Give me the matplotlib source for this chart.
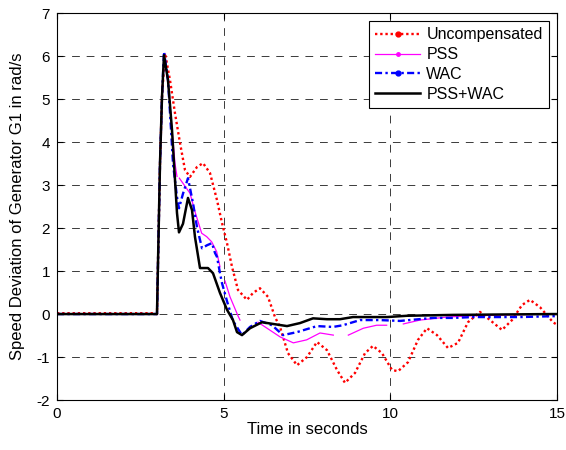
"""Speed deviation of generator G1 under the four control schemes."""
import numpy as np
import matplotlib.pyplot as plt
from matplotlib.lines import Line2D

# Uncompensated (red dotted)
t_unc = [0, 2.94, 3.0, 3.03, 3.09, 3.15, 3.24, 3.39, 3.54, 3.69, 3.84, 3.99, 4.2, 4.38,
         4.59, 4.8, 4.95, 5.1, 5.25, 5.43, 5.7, 5.88, 6.09, 6.33, 6.54, 6.69, 6.93, 7.2,
         7.5, 7.8, 8.1, 8.4, 8.64, 8.94, 9.24, 9.48, 9.75, 10.05, 10.23, 10.53, 10.83,
         11.1, 11.4, 11.73, 12.03, 12.33, 12.69, 12.99, 13.35, 13.65, 13.95, 14.19, 14.49,
         14.88, 15.0]
y_unc = [0.02, 0.02, 0, 1.2, 3.5, 5.05, 6.07, 5.44, 4.67, 3.98, 3.35, 3.19, 3.42, 3.51,
         3.28, 2.65, 2.12, 1.65, 1.1, 0.56, 0.33, 0.49, 0.6, 0.4, -0.07, -0.3, -0.91, -1.19,
         -1.0, -0.65, -0.84, -1.3, -1.6, -1.37, -0.91, -0.74, -0.91, -1.3, -1.33, -1.12, -0.6,
         -0.33, -0.49, -0.79, -0.67, -0.19, 0.05, -0.14, -0.37, -0.14, 0.21, 0.33, 0.16,
         -0.19, -0.25]

# PSS (magenta, drawn with gaps as in the original)
t_pss = [0, 2.94, 3.0, 3.03, 3.09, 3.15, 3.21, 3.33, 3.45, 3.54, 3.6, 3.63,
         3.67, 3.99, 4.14, 4.34, 4.49, 4.64, 4.79, 4.89, 4.96,
         5.04, 5.19, 5.44, 5.49, 5.75,
         6.03, 6.69, 7.09, 7.49, 7.89, 8.29, 8.5,
         8.74, 9.19, 9.59, 9.89, 10.1,
         10.39, 10.89, 11.69, 12.5, 13.5, 14.88, 15.0]
y_pss = [0, 0, 0, 1.19, 3.5, 5.05, 6.05, 5.4, 4.3, 3.5, 3.2, np.nan,
         3.16, 2.81, 2.38, 1.88, 1.8, 1.68, 1.45, 1.1, np.nan,
         0.77, 0.4, -0.06, -0.14, np.nan,
         -0.19, -0.53, -0.67, -0.6, -0.44, -0.49, np.nan,
         -0.49, -0.33, -0.26, -0.26, np.nan,
         -0.23, -0.14, -0.07, -0.04, -0.02, 0, 0]

# WAC (blue dash-dot)
t_wac = [0, 2.94, 3.0, 3.03, 3.09, 3.15, 3.21, 3.33, 3.42, 3.48, 3.6, 3.66, 3.78, 3.93,
         4.08, 4.2, 4.35, 4.5, 4.65, 4.74, 4.8, 4.89, 4.95, 5.1, 5.28, 5.55, 5.79, 6.09,
         6.45, 6.78, 7.2, 7.8, 8.28, 8.58, 9.09, 9.69, 10.29, 11.28, 11.88, 12.48, 13.89,
         14.88, 15.0]
y_wac = [0, 0, 0, 1.19, 3.5, 5.05, 6.1, 5.44, 4.3, 3.5, 2.72, 2.46, 2.8, 3.16,
         2.58, 2.02, 1.53, 1.6, 1.65, 1.42, 1.33, 0.95, 0.72, 0.3, -0.16, -0.49, -0.3, -0.16,
         -0.26, -0.49, -0.42, -0.28, -0.3, -0.26, -0.14, -0.14, -0.16, -0.09, -0.09, -0.07,
         -0.07, -0.05, -0.05]

# PSS+WAC (black solid)
t_both = [0, 2.94, 3.0, 3.03, 3.09, 3.15, 3.21, 3.33, 3.45, 3.54, 3.6, 3.66, 3.78, 3.93,
          4.05, 4.14, 4.29, 4.53, 4.68, 4.89, 5.1, 5.28, 5.4, 5.55, 5.79, 6.15, 6.48, 6.9,
          7.29, 7.68, 8.1, 8.49, 8.88, 9.9, 10.5, 11.88, 14.88, 15.0]
y_both = [0, 0, 0, 1.19, 3.5, 5.05, 6.02, 5.44, 4.28, 3.12, 2.35, 1.9, 2.1, 2.7,
          2.42, 1.79, 1.07, 1.07, 0.95, 0.49, 0.1, -0.14, -0.42, -0.49, -0.33, -0.19, -0.23,
          -0.28, -0.21, -0.1, -0.12, -0.12, -0.07, -0.07, -0.04, -0.02, 0, 0]

plt.rcParams["font.family"] = ["Liberation Sans", "DejaVu Sans"]
plt.rcParams["axes.unicode_minus"] = False

red_ls = (0, (1, 1.2))
blue_ls = (0, (3, 1.4, 1, 1.4))

fig = plt.figure(figsize=(5.66, 4.5), dpi=100)
ax = fig.add_axes([0.1007, 0.111, 0.8834, 0.86])

ax.plot(t_unc, y_unc, color="red", linestyle=red_ls, linewidth=1.7)
ax.plot(t_pss, y_pss, color="magenta", linestyle="-", linewidth=0.9)
ax.plot(t_wac, y_wac, color="blue", linestyle=blue_ls, linewidth=1.7)
ax.plot(t_both, y_both, color="black", linestyle="-", linewidth=1.8)

ax.set_xlim(0, 15)
ax.set_ylim(-2, 7)
ax.set_xticks([0, 5, 10, 15])
ax.set_yticks(range(-2, 8))
ax.tick_params(direction="in", top=True, right=True, labelsize=11, length=4, pad=5)
ax.grid(True, color="#3a3a3a", linestyle=(0, (8, 7)), linewidth=0.7)
ax.set_axisbelow(True)

ax.set_xlabel("Time in seconds", fontsize=12, labelpad=1)
ax.set_ylabel("Speed Deviation of Generator G1 in rad/s", fontsize=12, labelpad=8)

handles = [
    Line2D([], [], color="red", linestyle=red_ls, linewidth=1.7, marker=".", markersize=7),
    Line2D([], [], color="magenta", linestyle="-", linewidth=0.9, marker=".", markersize=5),
    Line2D([], [], color="blue", linestyle=blue_ls, linewidth=1.7, marker=".", markersize=7),
    Line2D([], [], color="black", linestyle="-", linewidth=1.8),
]
labels = ["Uncompensated", "PSS", "WAC", "PSS+WAC"]
leg = ax.legend(handles, labels, loc="upper right", numpoints=1, fontsize=11.5,
                fancybox=False, framealpha=1, edgecolor="black",
                handlelength=2.8, borderaxespad=0.5, labelspacing=0.3,
                handletextpad=0.4, borderpad=0.4)
leg.get_frame().set_linewidth(0.8)

fig.savefig("out.png", dpi=100)
